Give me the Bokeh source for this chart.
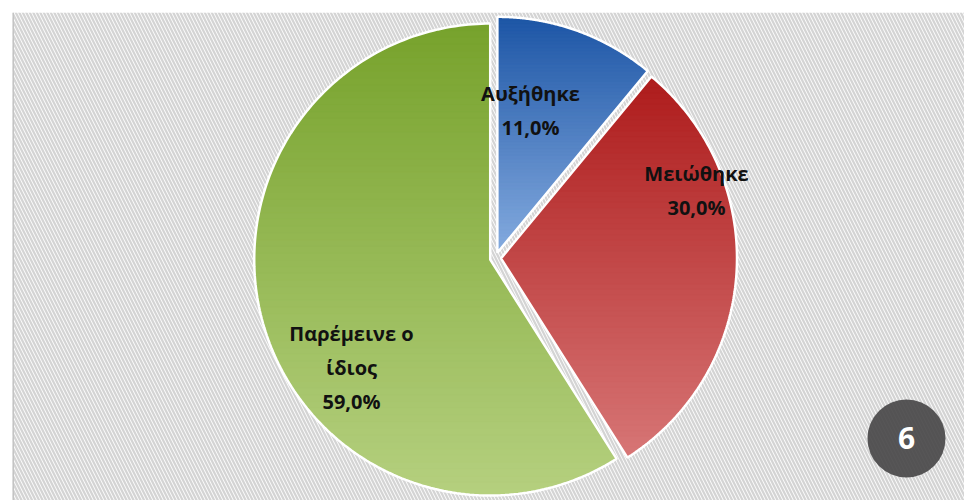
import numpy as np
from bokeh.plotting import figure
from bokeh.models import Range1d, Span
from bokeh.core.properties import value
from bokeh.embed import file_html
from bokeh.resources import INLINE

# ---------------- data ----------------
categories = ["Αυξήθηκε", "Μειώθηκε", "Παρέμεινε ο ίδιος"]
shares = [11.0, 30.0, 59.0]
label_lines = [["Αυξήθηκε"], ["Μειώθηκε"], ["Παρέμεινε ο", "ίδιος"]]
badge_text = "6"

# ---------------- styles / layout ----------------
top_colors = ["#1d56a6", "#ae1c1c", "#77a22c"]
bottom_colors = ["#85abdf", "#d77676", "#b5d07f"]
W, H = 964, 500
FW, FH = 952, 488            # frame in pixels (1 data unit = 1 px)
CX, CY, R = 483.0, 242.5, 236.0
EXPLODE = 5.5
label_pos = [(518, 407), (684, 327), (339, 167)]   # centre of first label line
LINE_GAP = 34
FONT = "Open Sans"

p = figure(width=W, height=H, output_backend="svg", toolbar_location=None,
           x_range=Range1d(0, FW), y_range=Range1d(0, FH),
           min_border_left=12, min_border_top=12, min_border_right=0, min_border_bottom=0)
p.axis.visible = False
p.grid.visible = False
p.outline_line_color = None
p.background_fill_color = "white"
p.border_fill_color = "white"

# hatched background
p.quad(left=[0], right=[FW], bottom=[0], top=[FH], fill_color="#fbfbfb",
       hatch_pattern="\\", hatch_color="#d4d4d4", hatch_scale=7, hatch_weight=2.2,
       line_color=None)
p.add_layout(Span(location=0.5, dimension="height", line_color="#c4c4c4", line_width=2))


def hex2rgb(h):
    h = h.lstrip("#")
    return np.array([int(h[i:i + 2], 16) for i in (0, 2, 4)], dtype=float)


def mix(c1, c2, t):
    c = hex2rgb(c1) * (1 - t) + hex2rgb(c2) * t
    return "#%02x%02x%02x" % tuple(int(round(v)) for v in c)


def clip(pts, inside, inter):
    out = []
    for i in range(len(pts)):
        cur, prev = pts[i], pts[i - 1]
        if inside(cur):
            if not inside(prev):
                out.append(inter(prev, cur))
            out.append(cur)
        elif inside(prev):
            out.append(inter(prev, cur))
    return out


def at_y(yc):
    def f(a, b):
        t = (yc - a[1]) / (b[1] - a[1])
        return (a[0] + t * (b[0] - a[0]), yc)
    return f


def band(pts, y0, y1):
    pts = clip(pts, lambda q: q[1] >= y0, at_y(y0))
    if pts:
        pts = clip(pts, lambda q: q[1] <= y1, at_y(y1))
    return pts


total = sum(shares)
start = np.pi / 2
outlines = []
for i, s in enumerate(shares):
    sweep = 2 * np.pi * s / total
    a0, a1 = start, start - sweep
    mid = (a0 + a1) / 2
    cx = CX + EXPLODE * np.cos(mid)
    cy = CY + EXPLODE * np.sin(mid)
    angs = np.linspace(a0, a1, 200)
    px = [cx] + list(cx + R * np.cos(angs))
    py = [cy] + list(cy + R * np.sin(angs))
    pts = list(zip(px, py))
    ymin, ymax = min(py), max(py)
    n = 70
    edges = np.linspace(ymin, ymax, n + 1)
    xs, ys, cols = [], [], []
    for k in range(n):
        y0, y1 = edges[k], edges[k + 1]
        bp = band(pts, y0 - 0.4, y1 + 0.4)
        if len(bp) < 3:
            continue
        t = (ymax - (y0 + y1) / 2) / (ymax - ymin)
        xs.append([q[0] for q in bp])
        ys.append([q[1] for q in bp])
        cols.append(mix(top_colors[i], bottom_colors[i], t))
    p.patches(xs, ys, fill_color=cols, line_color=cols, line_width=0.6)
    outlines.append((px, py))
    start = a1

for px, py in outlines:
    p.patch(px, py, fill_alpha=0, line_color="white", line_width=2.5)

# labels
for i, s in enumerate(shares):
    lines = label_lines[i] + [f"{s:.1f}".replace(".", ",") + "%"]
    lx, ly = label_pos[i]
    for j, t in enumerate(lines):
        p.text(x=[lx], y=[ly - j * LINE_GAP], text=[t], text_align="center",
               text_baseline="middle", text_font=value(FONT), text_font_size="20px",
               text_font_style="bold", text_color="#111111")

# badge
p.scatter(x=[894], y=[62], size=78, marker="circle", fill_color="#4a494a",
          fill_alpha=0.93, line_color=None)
p.text(x=[894], y=[63], text=[badge_text], text_align="center", text_baseline="middle",
       text_font=value(FONT), text_font_size="30px", text_font_style="bold",
       text_color="white")

open("out.html", "w").write(file_html(p, INLINE))
